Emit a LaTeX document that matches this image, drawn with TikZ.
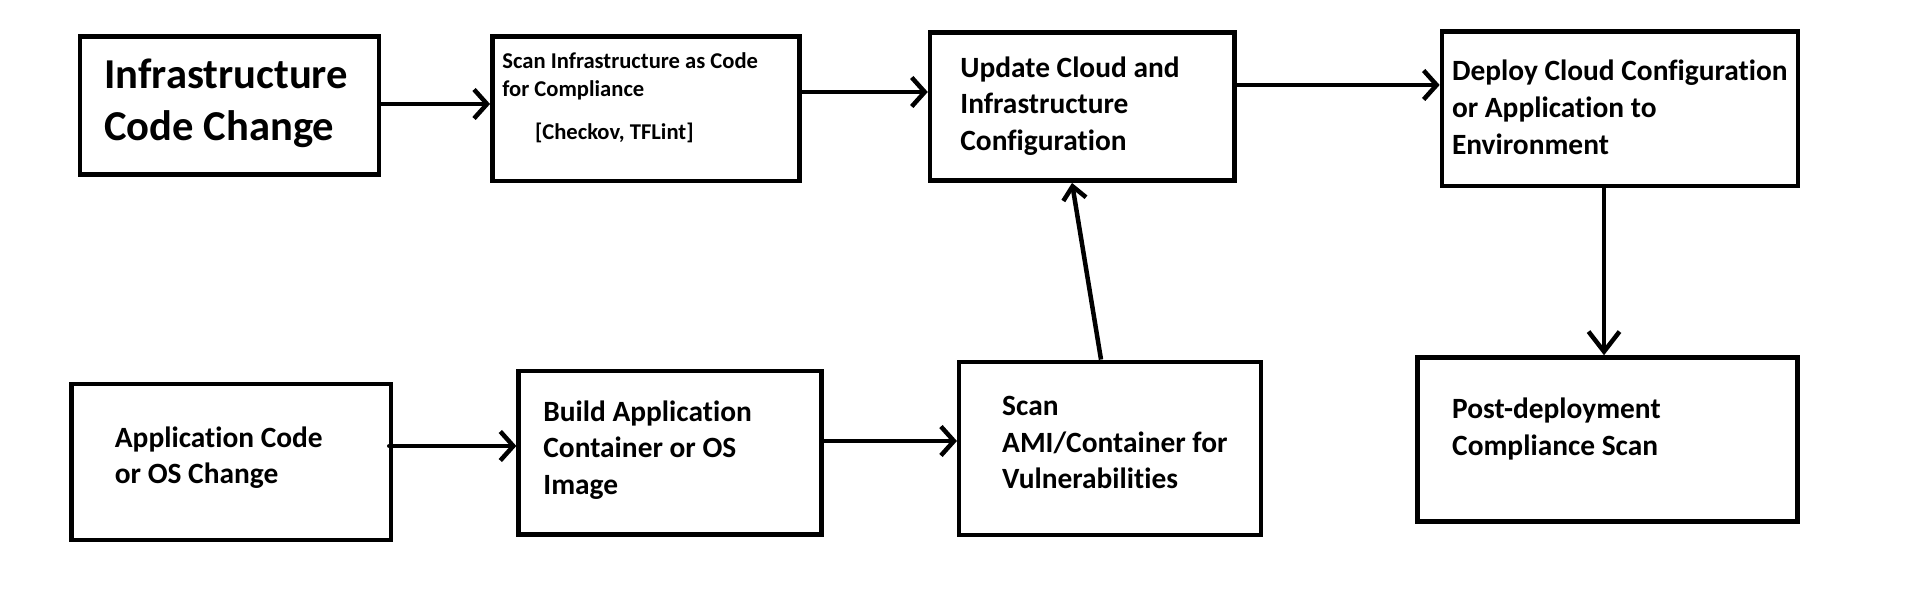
\documentclass[tikz,border=0pt]{standalone}
\usepackage{fontspec}
\setmainfont{Carlito}[Ligatures={NoCommon}]
\usetikzlibrary{arrows.meta}
\newcommand\twol[2]{\vtop{\hbox{#1}\hbox{#2}}}
\newcommand\threel[3]{\vtop{\hbox{#1}\hbox{#2}\hbox{#3}}}
\begin{document}
\begin{tikzpicture}[x=0.5pt,y=-0.5pt,
  box/.style={draw, rectangle, line width=2.25pt, inner sep=0pt},
  txt/.style={anchor=base west, inner sep=0pt, font=\bfseries\fontsize{14.7}{18.35}\selectfont},
  arr/.style={line width=2.25pt, -{Straight Barb[length=6.5pt,width=14.5pt]}}]
\useasboundingbox (0,0) rectangle (1914,614);
\fill[white] (0,0) rectangle (1914,614);
% boxes (centre, size = outer - line width)
\node[box, minimum width=149.6pt, minimum height=69.2pt] (b1) at (229.6,105.5) {};
\node[box, minimum width=153.7pt, minimum height=72.2pt] (b2) at (646,108.7) {};
\node[box, minimum width=152.3pt, minimum height=74.2pt] (b3) at (1082.3,106.5) {};
\node[box, minimum width=178.1pt, minimum height=77.2pt] (b4) at (1620,108.8) {};
\node[box, minimum width=150.8pt, minimum height=86.7pt] (b5) at (1110,448.5) {};
\node[box, minimum width=190.1pt, minimum height=82pt] (b6) at (1607.4,439.5) {};
\node[box, minimum width=159.8pt, minimum height=77.8pt] (b7) at (231.2,462) {};
\node[box, minimum width=151.4pt, minimum height=81.9pt] (b8) at (670,452.8) {};
% texts
\node[txt, font=\bfseries\fontsize{21.3}{26}\selectfont] (t1) at (104,88.3) {\twol{Infrastructure}{Code Change}};
\node[txt, font=\bfseries\fontsize{11.3}{14}\selectfont] (t2) at (502,68.3) {\twol{Scan Infrastructure as Code}{for Compliance}};
\node[txt, font=\bfseries\fontsize{11.3}{14}\selectfont] (t2b) at (534.6,139.5) {[Checkov, TFLint]};
\node[txt] (t3) at (960,77.3) {\threel{Update Cloud and}{Infrastructure}{Configuration}};
\node[txt] (t4) at (1451.6,80.7) {\threel{Deploy Cloud Configuration}{or Application to}{Environment}};
\node[txt] (t5) at (1001.8,415.3) {\threel{Scan}{AMI/Container for}{Vulnerabilities}};
\node[txt] (t6) at (1451.8,418.7) {\twol{Post-deployment}{Compliance Scan}};
\node[txt] (t7) at (114.5,447) {\twol{Application Code}{or OS Change}};
\node[txt] (t8) at (543,421) {\threel{Build Application}{Container or OS}{Image}};
% connectors
\draw[arr] (b1.east |- 0,104) -- (b2.west |- 0,104);
\draw[arr] (b2.east |- 0,92) -- (b3.west |- 0,92);
\draw[arr] (b3.east |- 0,85) -- (b4.west |- 0,85);
\draw[line width=2.25pt, -{Straight Barb[length=10pt,width=15.5pt]}] (b4.south -| 1604,0) -- (b6.north -| 1604,0);
\draw[line width=2.25pt, -{Straight Barb[length=6.5pt,width=11.5pt]}] (b5.north -| 1101,0) -- (b3.south -| 1072,0);
\draw[arr, line cap=round] ([xshift=-2pt]b7.east |- 0,446) -- (b8.west |- 0,446);
\draw[arr] (b8.east |- 0,441) -- (b5.west |- 0,441);
\end{tikzpicture}
\end{document}
